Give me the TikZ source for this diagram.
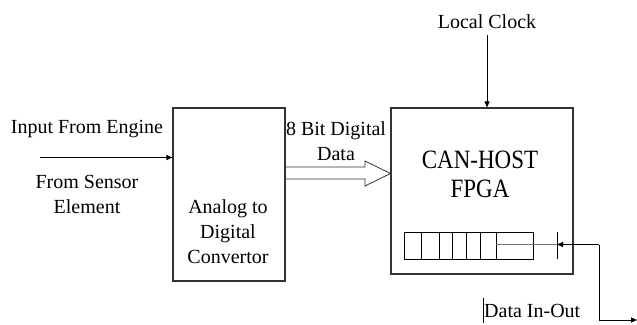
\documentclass[tikz,border=0pt]{standalone}
\usepackage{fontspec}
\setmainfont{Liberation Serif}
\usetikzlibrary{arrows.meta}
\tikzset{
  blk/.style={draw=black!80, line width=1.1pt, inner sep=0pt},
  lbl/.style={font=\fontsize{20}{25}\selectfont, align=center, inner sep=0pt},
  big/.style={font=\fontsize{23}{28}\selectfont, align=center, inner sep=0pt},
  conn/.style={line width=0.9pt, -{Triangle[length=6pt,width=5pt]}},
}
\begin{document}
\begin{tikzpicture}[x=1pt,y=-1pt]
\useasboundingbox (0,0) rectangle (637,324);
% ADC block
\node[blk, minimum width=112pt, minimum height=173pt] (adc) at (229,194.5) {};
\node[lbl] (adct) at (228,232) {Analog to\\Digital\\Convertor};
% FPGA block
\node[blk, minimum width=182pt, minimum height=166pt] (fpga) at (482,191) {};
\node[big, yscale=1.15] (fpgat) at (480,174) {CAN-HOST\\[-3pt]FPGA};
% register
\draw[line width=0.8pt] (404,232) rectangle (533,259);
\foreach \x in {421,439,452,466,480,496} \draw[line width=0.8pt] (\x,232) -- (\x,259);
\coordinate (rin) at (496,244.5);
\coordinate (bar) at (557,244.5);
\draw[line width=0.5pt, black!55] (rin) -- (bar);
\draw[line width=1pt] (557,232) -- (557,259);
% data in-out connector
\coordinate (c1) at (599,244.5);
\coordinate (c2) at (599,320);
\coordinate (c3) at (637,320);
\draw[conn] (c1) -- (bar);
\draw[conn] (c1) -- (c2) -- (c3);
\node[lbl, anchor=west] (dio) at (484,311) {Data In-Out};
\draw[line width=1pt] (483,298) -- (483,323);
% local clock
\node[lbl] (clk) at (487,22) {Local Clock};
\draw[conn] (487,35) -- (fpga.north -| clk.south);
% input
\node[lbl] (inp) at (87,129) {Input From Engine};
\node[lbl] (sens) at (87,194) {From Sensor\\Element};
\coordinate (ia) at (40,157.5);
\draw[conn] (ia) -- (adc.west |- ia);
% 8 bit data
\node[lbl] (bits) at (336,141) {8 Bit Digital\\Data};
\draw[line width=0.8pt, black!80] (adc.east |- 0,167) -- (365,167) -- (365,161) -- (fpga.west |- 0,173.5) -- (365,186) -- (365,179) -- (adc.east |- 0,179);
\end{tikzpicture}
\end{document}
